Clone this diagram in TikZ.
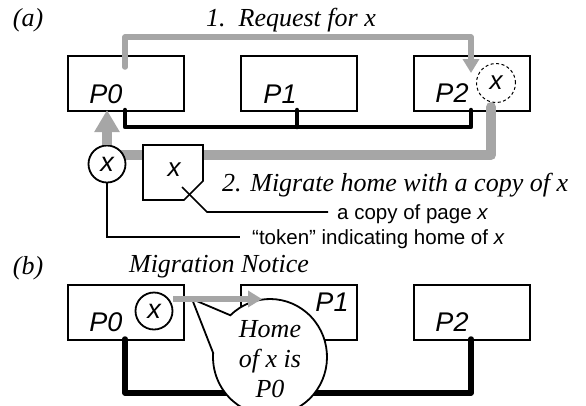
\documentclass[tikz,border=0pt]{standalone}
\usepackage{fontspec}
\setmainfont{Liberation Serif}
\setsansfont{Liberation Sans}
\usetikzlibrary{arrows.meta,shapes.geometric}
\definecolor{arrgray}{RGB}{166,166,166}
\begin{document}
\begin{tikzpicture}[x=1pt,y=-1pt,
  proc/.style={draw,fill=white,line width=1.7pt,minimum width=116pt,minimum height=55pt,inner sep=0pt,anchor=north west},
  plabel/.style={font=\fontsize{27}{27}\selectfont\sffamily\itshape,inner sep=0pt},
  serifit/.style={font=\fontsize{26}{30}\selectfont\rmfamily\itshape,inner sep=0pt},
  note/.style={font=\fontsize{20.5}{24}\selectfont\sffamily,inner sep=0pt,anchor=base west},
  bus/.style={line width=4.5pt,line cap=round,line join=round},
  graypath/.style={draw=arrgray,line join=round,line cap=round},
  tok/.style={draw,fill=white,circle,line width=1.8pt,minimum size=37pt,inner sep=0pt,font=\fontsize{27}{27}\selectfont\sffamily\itshape},
  thinline/.style={line width=1.7pt}
]
\useasboundingbox (0,0) rectangle (586,405);

% ---------------- (a) ----------------
\node[serifit,anchor=base] (la) at (28,26) {(a)};
\node[serifit,anchor=base] (req) at (291,26) {1.\ \ Request for x};

\node[proc] (a0) at (67,55) {};
\node[proc] (a1) at (240,55) {};
\node[proc] (a2) at (413,55) {};
\node[plabel] (a0l) at (106,94) {P0};
\node[plabel] (a1l) at (280,94) {P1};
\node[plabel] (a2l) at (452,93) {P2};
\node[draw,circle,line width=1pt,dash pattern=on 3pt off 2.5pt,minimum size=39pt,inner sep=0pt,
      font=\fontsize{26}{26}\selectfont\sffamily\itshape] (hx) at (496,83) {x};

% bus
\coordinate (a0b) at (125,110);
\coordinate (a1b) at (297,110);
\coordinate (a2b) at (471,110);
\draw[bus] (a0b) -- (125,127) -- (471,127) -- (a2b);
\draw[bus] (a1b) -- (297,127);

% request arrow
\coordinate (reqs) at (125,67);
\coordinate (reqe) at (471,73);
\draw[graypath,line width=5.5pt,-{Triangle[width=16pt,length=14pt]}] (reqs) -- (125,37) -- (471,37) -- (reqe);

% migrate path
\coordinate (migs) at (491,107);
\draw[graypath,line width=10pt] (migs) -- (491,155) -- (107,155);

% token
\node[tok] (tok) at (107,164) {x};
\coordinate (a0in) at (107,110);
\draw[draw=arrgray,line width=10pt,-{Triangle[width=24pt,length=22pt]}] (tok.north) -- (a0in);

% page copy
\draw[thinline,fill=white] (143,145) -- (203,145) -- (203,181) -- (184,200) -- (143,200) -- cycle;
\node[font=\fontsize{26}{26}\selectfont\sffamily\itshape,inner sep=0pt] (page) at (174,170) {x};

\node[serifit,anchor=base west] (mig) at (222,191) {2. Migrate home with a copy of x};

\draw[thinline] (182,187) -- (207,212) -- (328,212) coordinate (copyend);
\node[note] (copy) at (337,219) {a copy of page \textit{x}};
\draw[thinline] (tok.south) -- (107,237) -- (240,237) coordinate (tokend);
\node[note] (token) at (252,244) {“token” indicating home of \textit{x}};

% ---------------- (b) ----------------
\node[serifit,anchor=base] (lb) at (28,274) {(b)};
\node[serifit,anchor=base] (mn) at (219,272) {Migration Notice};

\node[proc] (b0) at (67,284) {};
\node[proc] (b1) at (240,284) {};
\node[proc] (b2) at (413,284) {};
\node[plabel] (b0l) at (106,322) {P0};
\node[plabel] (b1l) at (332,302) {P1};
\node[plabel] (b2l) at (452,322) {P2};
\node[tok] (btok) at (154,311) {x};

\coordinate (b0b) at (125,339);
\coordinate (b2b) at (471,339);
\draw[line width=5.5pt,line cap=round,line join=round] (b0b) -- (125,393) -- (471,393) -- (b2b);

% callout bubble: ellipse with wedge pointing to the token
\coordinate (bubc) at (270,357);
\coordinate (tip) at (192,299);
\draw[line width=1.8pt,fill=white,line join=miter]
  (bubc) ++(226:57 and 58)
  arc[start angle=226,end angle=544,x radius=57,y radius=58]
  -- (tip) -- cycle;
\node[serifit,anchor=base] (h1) at (270,337) {Home};
\node[serifit,anchor=base] (h2) at (270,367) {of x is};
\node[serifit,anchor=base] (h3) at (270,397) {P0};

\draw[draw=arrgray,line width=5.5pt,-{Triangle[width=16pt,length=14pt]}] (btok.east |- 0,299) -- (262,299);
\end{tikzpicture}
\end{document}
